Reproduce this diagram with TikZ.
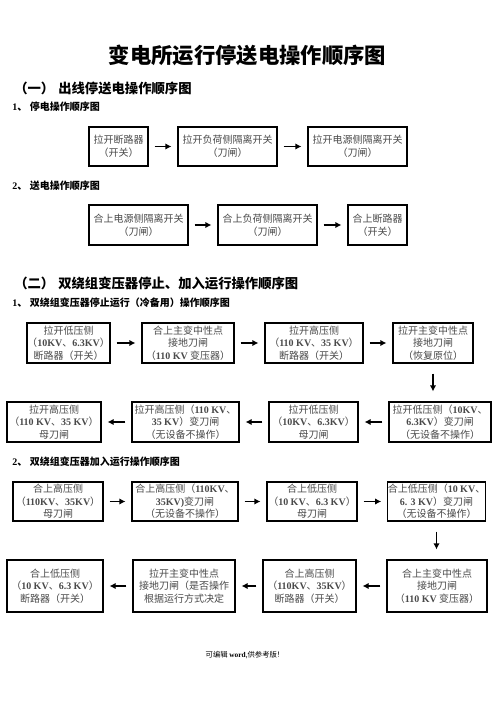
\documentclass[tikz,border=0pt]{standalone}
\usepackage{fontspec}
\setmainfont{Liberation Serif}
\newfontfamily\cjk{Noto Sans CJK SC}
\usetikzlibrary{arrows.meta}
\definecolor{txt}{HTML}{4A4A4A}
\newcommand\lt[1]{{\rmfamily\bfseries #1}}
\newcommand\mybox[6]{\node[box, minimum width={(#4-#2)*0.75pt}, minimum height={(#5-#3)*0.75pt}] (#1) at ({(#2+#4)/2},{(#3+#5)/2}) {#6};}
\tikzset{
 box/.style={draw=black, line width=0.9pt, inner sep=0pt, align=center, text=txt, font=\cjk\fontsize{7.5}{9.4}\selectfont},
 arr/.style={line width=1.2pt, -{Latex[length=4.5pt,width=4.8pt]}, shorten <=4.5pt, shorten >=4.5pt},
 darr/.style={line width=1.2pt, -{Latex[length=4.5pt,width=4.8pt]}, shorten <=7.5pt, shorten >=7.5pt},
 ttl/.style={font=\cjk\bfseries\fontsize{16}{18}\selectfont, inner sep=0pt},
 sec/.style={font=\cjk\bfseries\fontsize{10}{12}\selectfont, inner sep=0pt, anchor=west},
 sub/.style={font=\cjk\bfseries\fontsize{7.5}{9}\selectfont, inner sep=0pt, anchor=west},
 foot/.style={font=\cjk\fontsize{5.5}{6.5}\selectfont, inner sep=0pt},
}
\begin{document}
\begin{tikzpicture}[x=0.75pt,y=-0.75pt]
\useasboundingbox[fill=white] (0,0) rectangle (496,702);

\node[ttl] (title) at (247.5,55) {变电所运行停送电操作顺序图};
\node[sec] (s1) at (14,88) {（一）\hspace{3pt}出线停送电操作顺序图};
\node[sub] (s11) at (12,107) {\lt{1}、\hspace{2pt}停电操作顺序图};
\node[sub] (s12) at (12,186) {\lt{2}、\hspace{2pt}送电操作顺序图};
\node[sec] (s2) at (14,283) {（二）\hspace{3pt}双绕组变压器停止、加入运行操作顺序图};
\node[sub] (s21) at (12,303) {\lt{1}、\hspace{2pt}双绕组变压器停止运行（冷备用）操作顺序图};
\node[sub] (s22) at (12,462) {\lt{2}、\hspace{2pt}双绕组变压器加入运行操作顺序图};

% row 1
\mybox{a1}{89}{127}{148}{166}{拉开断路器\\（开关）}
\mybox{a2}{178}{127}{277}{166}{拉开负荷侧隔离开关\\（刀闸）}
\mybox{a3}{308}{127}{407}{166}{拉开电源侧隔离开关\\（刀闸）}
\draw[arr] (a1.east) -- (a2.west);
\draw[arr] (a2.east) -- (a3.west);

% row 2
\mybox{b1}{89}{205}{188}{245}{合上电源侧隔离开关\\（刀闸）}
\mybox{b2}{218}{205}{317}{245}{合上负荷侧隔离开关\\（刀闸）}
\mybox{b3}{348}{205}{407}{245}{合上断路器\\（开关）}
\draw[arr] (b1.east) -- (b2.west);
\draw[arr] (b2.east) -- (b3.west);

% row 3
\mybox{c1}{27}{323}{110}{363}{拉开低压侧\\（\lt{10KV}、\lt{6.3KV}）\\断路器（开关）}
\mybox{c2}{142}{323}{234}{363}{合上主变中性点\\接地刀闸\\（\lt{110 KV} 变压器）}
\mybox{c3}{265}{323}{363}{363}{拉开高压侧\\（\lt{110 KV}、\lt{35 KV}）\\断路器（开关）}
\mybox{c4}{393}{323}{473}{363}{拉开主变中性点\\接地刀闸\\（恢复原位）}
\draw[arr] (c1.east) -- (c2.west);
\draw[arr] (c2.east) -- (c3.west);
\draw[arr] (c3.east) -- (c4.west);

% row 4
\mybox{d1}{7}{402}{101}{442}{拉开高压侧\\（\lt{110 KV}、\lt{35 KV}）\\母刀闸}
\mybox{d2}{132}{402}{239}{442}{拉开高压侧（\lt{110 KV}、\\\lt{35 KV}）变刀闸\\（无设备不操作）}
\mybox{d3}{269}{402}{358}{442}{拉开低压侧\\（\lt{10KV}、\lt{6.3KV}）\\母刀闸}
\mybox{d4}{389}{402}{491}{442}{拉开低压侧（\lt{10KV}、\\\lt{6.3KV}）变刀闸\\（无设备不操作）}
\draw[darr] (c4.south) -- (c4.south |- d4.north);
\draw[arr] (d4.west) -- (d3.east);
\draw[arr] (d3.west) -- (d2.east);
\draw[arr] (d2.west) -- (d1.east);

% row 5
\mybox{e1}{13}{482}{103}{521}{合上高压侧\\（\lt{110KV}、\lt{35KV}）\\母刀闸}
\mybox{e2}{132}{482}{238}{521}{合上高压侧（\lt{110KV}、\\\lt{35KV)}变刀闸\\（无设备不操作）}
\mybox{e3}{267}{482}{357}{521}{合上低压侧\\（\lt{10 KV}、\lt{6.3 KV}）\\母刀闸}
\mybox{e4}{388}{482}{485}{521}{合上低压侧（\lt{10 KV}、\\\lt{6. 3 KV}）变刀闸\\（无设备不操作）}
\draw[arr] (e1.east) -- (e2.west);
\draw[arr] (e2.east) -- (e3.west);
\draw[arr] (e3.east) -- (e4.west);

% row 6
\mybox{f1}{7}{560}{103}{612}{合上低压侧\\（\lt{10 KV}、\lt{6.3 KV}）\\断路器（开关）}
\mybox{f2}{133}{560}{235}{612}{拉开主变中性点\\接地刀闸（是否操作\\根据运行方式决定}
\mybox{f3}{263}{560}{356}{612}{合上高压侧\\（\lt{110KV}、\lt{35KV}）\\断路器（开关）}
\mybox{f4}{387}{560}{487}{612}{合上主变中性点\\接地刀闸\\（\lt{110 KV} 变压器）}
\draw[darr] (e4.south) -- (e4.south |- f4.north);
\draw[arr] (f4.west) -- (f3.east);
\draw[arr] (f3.west) -- (f2.east);
\draw[arr] (f2.west) -- (f1.east);

\node[foot] (ft) at (245,655) {可编辑 {\rmfamily\bfseries word},供参考版！};
\end{tikzpicture}
\end{document}
